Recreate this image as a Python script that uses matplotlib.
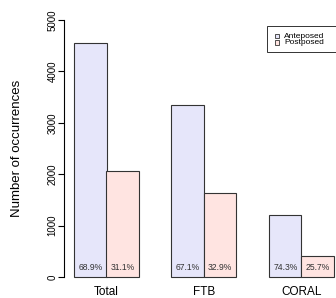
import matplotlib.pyplot as plt
from matplotlib.patches import Rectangle

plt.rcParams["font.family"] = ["Liberation Sans", "DejaVu Sans"]

groups = ["Total", "FTB", "CORAL"]
anteposed = [4550, 3340, 1200]
postposed = [2055, 1637, 415]
ante_pct = ["68.9%", "67.1%", "74.3%"]
post_pct = ["31.1%", "32.9%", "25.7%"]
yticks = [0, 1000, 2000, 3000, 4000, 5000]
legend_labels = ["Anteposed", "Postposed"]

C_ANTE = "#E6E6FA"
C_POST = "#FFE4E1"
EDGE = "#333333"

W, H = 336, 298
fig = plt.figure(figsize=(W / 100, H / 100), dpi=100)
# R-like plot region: x from 0.68 to 9.32, y from -200 to 5200
x_px0, x_px1 = 63.6, 344.4
y_px0, y_px1 = 287.3, 9.7
ax = fig.add_axes([x_px0 / W, 1 - y_px0 / H, (x_px1 - x_px0) / W, (y_px0 - y_px1) / H])
ax.set_xlim(0.68, 9.32)
ax.set_ylim(-200, 5200)

starts = [1 + 3 * i for i in range(len(groups))]
ax.bar(starts, anteposed, width=1, align="edge",
       color=C_ANTE, edgecolor=EDGE, linewidth=0.8)
ax.bar([s + 1 for s in starts], postposed, width=1, align="edge",
       color=C_POST, edgecolor=EDGE, linewidth=0.8)

for s, a, p in zip(starts, ante_pct, post_pct):
    ax.text(s + 0.5, 180, a, ha="center", va="center", fontsize=6.2, color=EDGE)
    ax.text(s + 1.5, 180, p, ha="center", va="center", fontsize=6.2, color=EDGE)

for s, g in zip(starts, groups):
    ax.text(s + 1, -290, g, ha="center", va="center", fontsize=8.5, clip_on=False)

for sp in ["top", "right", "bottom"]:
    ax.spines[sp].set_visible(False)
ax.spines["left"].set_bounds(0, 5000)
ax.spines["left"].set_linewidth(0.8)
ax.set_xticks([])
ax.set_yticks(yticks)
ax.set_yticklabels([str(t) for t in yticks], rotation=90, va="center", fontsize=7)
ax.tick_params(axis="y", length=4, width=0.8, pad=0.5)


def fpx(x, y):
    return x / W, 1 - y / H


fig.text(*fpx(17, 148), "Number of occurrences", rotation=90,
         ha="center", va="center", fontsize=9.5)

# R-style legend box, running off the right edge
fig.add_artist(Rectangle(fpx(267, 52), 80 / W, 26 / H, transform=fig.transFigure,
                         facecolor="white", edgecolor=EDGE, linewidth=0.7))
for i, (lab, col) in enumerate(zip(legend_labels, [C_ANTE, C_POST])):
    yc = 36 + 6.3 * i
    fig.add_artist(Rectangle(fpx(274.5, yc + 2.2), 4.5 / W, 4.5 / H, transform=fig.transFigure,
                             facecolor=col, edgecolor=EDGE, linewidth=0.6))
    fig.text(*fpx(284, yc), lab, ha="left", va="center", fontsize=6)

fig.savefig("out.png", dpi=100)
